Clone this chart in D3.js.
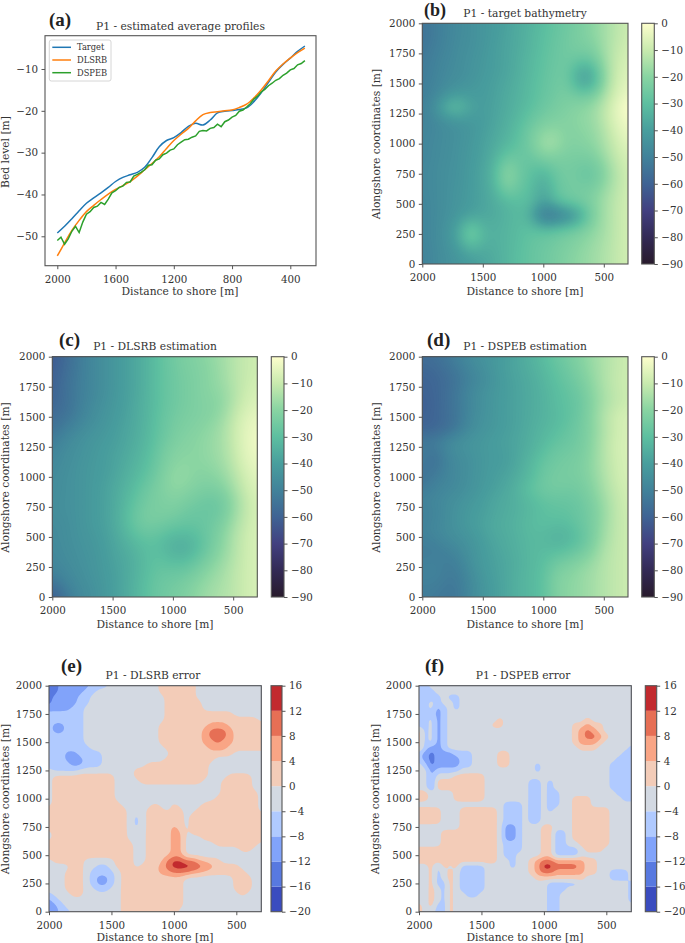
<!DOCTYPE html>
<html><head><meta charset="utf-8">
<script src="https://cdn.jsdelivr.net/npm/d3@7/dist/d3.min.js"></script>
<style>html,body{margin:0;padding:0;background:#fff}svg{display:block}text{font-family:"DejaVu Serif",serif;fill:#333}</style>
</head><body><svg id="c" width="685" height="943"></svg>
<script>
// ---- panel (a) profiles ----
const profileStep50 = d3.range(2000, 299, -50);
const profileStep25 = d3.range(2000, 299, -25);
const targetProfile = [-49.2,-47.6,-45.8,-43.9,-42.1,-40.8,-39.6,-38.3,-36.9,-35.9,-35.3,-34.7,-33.5,-31.2,-28.6,-27.1,-26.4,-25.2,-23.7,-23.0,-23.4,-22.2,-20.5,-20.1,-19.9,-19.7,-19.3,-17.8,-15.7,-13.2,-10.7,-8.9,-7.4,-5.8,-4.5];
const dlsrbProfile = [-54.7,-51.6,-48.6,-46.2,-44.1,-42.6,-41.2,-39.9,-38.8,-37.9,-36.9,-35.6,-34.1,-32.6,-31,-29,-27.1,-25.6,-24.2,-22.4,-20.9,-20.4,-20.2,-20,-19.8,-19.2,-18.4,-16.9,-15,-12.8,-10.5,-8.8,-7.4,-6.1,-5];
const dspebProfile = [-51,-50.2,-51.9,-50.6,-48.8,-47.6,-49.1,-46.6,-44.7,-44.1,-43.1,-42.8,-41.9,-42.4,-41.1,-39.6,-39.1,-38.3,-38,-37.1,-37,-35.6,-35.2,-34.7,-34.1,-33,-32.9,-31.8,-31.5,-30.5,-30.1,-29.4,-29.1,-28.1,-27.5,-26.9,-26.8,-26.3,-26,-24.9,-24.7,-24.8,-24.2,-24,-23.2,-23.8,-22.6,-22.2,-21.5,-21.1,-20.1,-19.8,-19.1,-18.3,-17.2,-16.5,-15.5,-14.9,-14,-13.4,-12.7,-12.3,-11.5,-11,-10.2,-9.9,-9,-8.7,-8];
const profileNames = ["Target","DLSRB","DSPEB"];
const profileColors = ["#1f77b4","#ff7f0e","#2ca02c"];
// ---- depth grids: columns x = 2000..300 by 100 m, rows y = 2000..0 by 100 m ----
const targetDepth = [
[-54,-52,-49,-47,-45,-43,-41,-39,-36,-34,-31,-28,-26,-23,-20,-16,-12,-9],
[-55,-52,-49,-47,-45,-43,-41,-38,-36,-33,-30,-28,-25,-23,-20,-16,-12,-9],
[-54,-51,-49,-46,-45,-43,-40,-38,-36,-33,-30,-27,-25,-23,-23,-16,-11,-8],
[-53,-50,-48,-46,-44,-42,-40,-38,-35,-32,-29,-27,-25,-27,-27,-17,-10,-7],
[-52,-50,-47,-46,-44,-42,-40,-38,-35,-32,-29,-26,-25,-38,-38,-19,-9,-6],
[-52,-49,-47,-45,-43,-41,-39,-37,-34,-31,-28,-26,-24,-38,-38,-19,-8,-5],
[-51,-49,-43,-40,-41,-41,-39,-36,-34,-31,-28,-25,-23,-25,-24,-15,-7,-3],
[-50,-46,-30,-28,-38,-41,-38,-36,-33,-30,-26,-24,-22,-20,-18,-12,-5,1],
[-50,-48,-45,-43,-42,-41,-38,-35,-32,-27,-24,-22,-21,-19,-18,-12,-5,-2],
[-49,-48,-46,-45,-43,-40,-37,-34,-30,-24,-19,-18,-22,-20,-19,-14,-7,-3],
[-49,-47,-46,-44,-42,-39,-36,-33,-29,-24,-15,-15,-22,-21,-20,-15,-9,-5],
[-49,-47,-46,-44,-42,-39,-35,-27,-27,-27,-20,-22,-23,-23,-23,-17,-10,-7],
[-48,-47,-45,-44,-41,-38,-33,-18,-27,-29,-31,-25,-24,-26,-27,-21,-12,-8],
[-48,-47,-45,-44,-41,-38,-33,-16,-27,-29,-37,-27,-24,-25,-28,-21,-13,-8],
[-48,-47,-45,-43,-41,-38,-35,-23,-29,-30,-40,-28,-25,-24,-23,-17,-12,-8],
[-49,-47,-45,-43,-41,-38,-36,-33,-31,-30,-42,-31,-27,-25,-22,-16,-11,-8],
[-49,-47,-45,-42,-39,-38,-36,-34,-31,-36,-60,-58,-52,-42,-23,-16,-11,-8],
[-49,-47,-44,-38,-22,-34,-35,-33,-31,-29,-31,-29,-27,-24,-20,-16,-11,-8],
[-49,-47,-44,-38,-22,-34,-35,-33,-31,-28,-27,-25,-23,-21,-18,-15,-11,-8],
[-50,-47,-45,-42,-37,-38,-35,-33,-30,-28,-26,-24,-22,-19,-17,-14,-11,-8],
[-50,-47,-45,-43,-41,-38,-36,-33,-30,-28,-26,-24,-21,-19,-17,-14,-11,-8]];
const dlsrbDepth = [
[-63,-58,-53,-49,-46,-43,-40,-37,-33,-29,-25,-23,-21,-19,-16,-13,-10,-9],
[-62,-57,-53,-49,-46,-43,-40,-37,-33,-29,-26,-23,-22,-20,-17,-13,-10,-9],
[-61,-56,-52,-49,-46,-43,-40,-37,-33,-29,-26,-24,-22,-20,-17,-13,-10,-8],
[-60,-56,-52,-49,-46,-43,-40,-37,-33,-29,-26,-24,-22,-20,-19,-14,-9,-7],
[-59,-56,-52,-48,-45,-42,-40,-36,-33,-29,-26,-24,-22,-21,-20,-13,-8,-6],
[-57,-55,-51,-47,-44,-42,-39,-36,-33,-28,-25,-23,-22,-21,-18,-11,-6,-4],
[-55,-51,-48,-45,-43,-41,-38,-36,-32,-28,-24,-22,-21,-19,-16,-10,-5,-3],
[-52,-48,-45,-43,-42,-40,-38,-35,-32,-27,-23,-21,-20,-18,-16,-10,-5,-2],
[-49,-46,-45,-43,-41,-39,-37,-34,-31,-25,-21,-20,-20,-18,-16,-11,-5,-3],
[-48,-46,-44,-42,-41,-39,-36,-33,-30,-24,-20,-19,-20,-19,-17,-12,-6,-4],
[-47,-45,-44,-42,-41,-38,-35,-32,-28,-23,-18,-18,-21,-21,-19,-14,-8,-5],
[-47,-45,-44,-42,-40,-37,-34,-30,-25,-22,-19,-20,-22,-23,-22,-16,-9,-6],
[-46,-45,-44,-42,-40,-37,-33,-28,-24,-23,-21,-23,-25,-27,-26,-19,-11,-7],
[-46,-45,-44,-42,-40,-37,-32,-26,-23,-23,-23,-26,-27,-27,-26,-18,-11,-7],
[-47,-46,-44,-42,-40,-37,-32,-26,-24,-25,-27,-28,-28,-26,-23,-16,-10,-7],
[-47,-46,-44,-43,-41,-38,-34,-30,-28,-30,-33,-33,-31,-26,-21,-14,-9,-7],
[-48,-46,-45,-43,-42,-38,-36,-33,-30,-31,-35,-36,-32,-25,-20,-14,-9,-7],
[-48,-47,-45,-44,-42,-39,-37,-34,-30,-29,-31,-31,-27,-22,-18,-13,-9,-7],
[-50,-48,-46,-44,-42,-40,-37,-34,-30,-27,-27,-26,-23,-19,-16,-12,-9,-7],
[-56,-50,-47,-45,-43,-40,-37,-33,-29,-26,-25,-23,-20,-17,-15,-12,-9,-7],
[-62,-55,-48,-46,-43,-40,-37,-33,-29,-26,-24,-22,-19,-16,-14,-12,-9,-7]];
const dspebDepth = [
[-57,-56,-53,-50,-46,-44,-42,-40,-37,-34,-31,-27,-24,-21,-17,-14,-11,-9],
[-58,-58,-55,-52,-48,-45,-42,-39,-37,-35,-32,-29,-26,-22,-18,-14,-11,-9],
[-60,-59,-57,-54,-50,-47,-43,-40,-38,-36,-33,-30,-27,-24,-19,-14,-10,-9],
[-60,-59,-56,-52,-47,-44,-42,-40,-38,-36,-34,-31,-29,-26,-20,-15,-11,-9],
[-61,-60,-56,-53,-48,-45,-42,-40,-38,-36,-34,-31,-29,-27,-21,-15,-11,-9],
[-60,-59,-56,-53,-47,-44,-42,-40,-38,-36,-34,-32,-30,-26,-20,-13,-8,-7],
[-60,-60,-57,-53,-46,-44,-42,-40,-38,-35,-33,-31,-28,-25,-21,-14,-9,-7],
[-52,-51,-47,-44,-43,-42,-40,-39,-37,-35,-32,-29,-27,-25,-20,-13,-8,-7],
[-52,-56,-48,-46,-44,-42,-41,-40,-37,-34,-30,-26,-25,-24,-20,-13,-8,-7],
[-52,-57,-49,-47,-45,-42,-41,-40,-36,-32,-27,-25,-24,-23,-19,-13,-9,-7],
[-56,-51,-49,-47,-44,-42,-40,-38,-35,-32,-26,-24,-24,-23,-20,-14,-9,-7],
[-52,-50,-48,-47,-44,-42,-39,-37,-33,-28,-25,-24,-25,-25,-21,-15,-10,-8],
[-49,-48,-46,-44,-42,-40,-37,-36,-34,-32,-29,-28,-28,-26,-23,-17,-11,-8],
[-51,-50,-46,-44,-41,-40,-37,-36,-34,-32,-30,-29,-29,-27,-24,-18,-11,-9],
[-50,-48,-46,-43,-41,-38,-36,-35,-33,-31,-30,-31,-31,-27,-24,-17,-11,-9],
[-50,-49,-46,-45,-43,-40,-37,-36,-34,-32,-32,-35,-34,-30,-24,-16,-11,-9],
[-52,-52,-50,-47,-44,-41,-38,-36,-34,-32,-31,-32,-30,-27,-22,-14,-11,-9],
[-51,-50,-52,-50,-44,-41,-39,-37,-35,-32,-31,-26,-24,-21,-18,-13,-11,-9],
[-50,-49,-52,-52,-46,-42,-39,-37,-34,-32,-30,-22,-21,-18,-16,-13,-11,-9],
[-51,-51,-53,-53,-47,-43,-40,-37,-34,-32,-30,-21,-20,-18,-16,-13,-11,-9],
[-52,-52,-54,-53,-47,-43,-40,-37,-34,-32,-30,-22,-20,-18,-16,-13,-11,-9]];
// ---- error grids: each digit is a colour-band index, columns x = 2000..300 by 50 m, rows y = 2000..0 by 50 m ----
const dlsrbErrorBands = [
"11222223334444444455555544444444444","11222233444444444455555544444444444","12222334444444444445555544444444444",
"12222334444444444445555554444444444","22223344444444444445555554444444444","33333344444444444445555555555544444",
"33333344444444444445555555555555554","32233344444444444455555555666555555","32233344444444444455555556777655555",
"33333344444444444455555556777655555","33333344444444444455555556676655555","33333334444444444445555555666555555",
"33322333344444444444555555555544444","33322233344444444445555555544444444","33332233344444445555555555444444444",
"43333444444444555555555555444444444","45555555555444555555555555444555544","45555555555444455555555554445555544",
"45555555555444444444444444445555544","45555555555444444444444444445555554","45555555555444444444444444455555554",
"45555555555544444544544445555555554","55555555555554445554554455555555554","55555555555554345555554555555555555",
"55555555555554345555554555555555555","55555555555554345555654555555555555","45555555555554445555664555555555555",
"45555555555554445555664445555555555","55555555555555445555664444455555554","55555555555555445555664444444445544",
"55555555555555445555664444444444444","45555544444555445557887765554444444","44445544334555455567888877655554444",
"44455543333455555566777665555555444","44455543223455555555554444444455544","44455543223455555555554444444455544",
"44455544334455555555554444444455544","34445544444455555555554444444445444","23444444444455555555554444444444444",
"22344444444455555555554444444444444","22334444444455555555544444444444444"];
const dspebErrorBands = [
"33444444444444444444444444444444444","33344444444444444444444444444444444","33334334444444444444434444444444444",
"33434434444444444444444444444444444","33423434444444444444444444444444444","33323444444444444444444444444444444",
"33423444444445444444444444454444444","33423444444455444444444445565544444","53423444444444444444444445676544444",
"53423444444445444444444445677654444","53423444444444444444444445666544444","53223444444444444444434444555444443",
"32122233344445544444444444444444433","32122223344445544444444444444444333","43122223344445544443444444444443333",
"44233334444444444443444444444443333","44244455555444444444444444444443333","44255555555444444433434444444443333",
"44255555555444444433434444444443333","55444455555444444433433444444444333","55444455555444444433433445554444433",
"44444444444444333433433445554444444","55554445555554333433434445555554444","55554445555554333433444445555554444",
"55554445555554333433444445555554444","44444445555554223444554445555554444","44445555555554223444553345555554444",
"44445555555554223444553345555554444","44445555555554333444553344555554444","55555555555554333444553333455544444",
"55555555555554334444553333444444444","55555555555554434456776666655444444","44535453333444434456887777655444444",
"44534543333444444456776666655443334","44534543333444444445555555544443334","44533543333444444444433333444444443",
"44543543333444444444433344444444443","44543544334444444444433444444444443","44543544444444444444433444444444443",
"54533544444444444444433444444444444","54433544444444444444433444444444444"];
// ---- colour scales and ticks ----
const depthStops = [0,-10,-20,-30,-40,-50,-60,-70,-80,-90];
const depthColors = ["#fdfecc","#c8eaae","#88d4a2","#5dbfa0","#489e9d","#41829a","#3f6394","#424080","#332a55","#281a2c"];
const errorLevels = [-20,-16,-12,-8,-4,0,4,8,12,16];
const errorColors = ["#3a4cbf","#5879e0","#81a3fa","#b0caff","#d3d9e2","#f3ccb8","#f9a585","#e66f55","#c22a2e"];
const xTicksMap = [2000,1500,1000,500];
const xTicksProfile = [2000,1600,1200,800,400];
const yTicksProfile = [-10,-20,-30,-40,-50];
const yTicksMap = [0,250,500,750,1000,1250,1500,1750,2000];
const depthTicks = [0,-10,-20,-30,-40,-50,-60,-70,-80,-90];
const gridXDepth = d3.range(2000,299,-100), gridYDepth = d3.range(2000,-1,-100);
const gridXError = d3.range(2000,299,-50), gridYError = d3.range(2000,-1,-50);

const svg = d3.select("#c");
const depthColor = d3.scaleLinear().domain(depthStops).range(depthColors).clamp(true);
const GRAY="#555", LABEL=10.7, TICK=10.3, SUB=4;
let clipId=0;
function styleAxis(g){
  g.select(".domain").remove();
  g.selectAll(".tick line").attr("stroke",GRAY).attr("stroke-width",1);
  g.selectAll(".tick text").attr("font-size",TICK).attr("fill","#333");
}
function frame(L,T,R,B){ svg.append("rect").attr("x",L).attr("y",T).attr("width",R-L).attr("height",B-T).attr("fill","none").attr("stroke",GRAY).attr("stroke-width",1.1); }
function text(x,y,s,size,opts={}){
  const t=svg.append("text").attr("x",x).attr("y",y).attr("font-size",size).attr("text-anchor",opts.anchor||"middle").text(s);
  if(opts.rot) t.attr("transform",`rotate(-90 ${x} ${y})`);
  if(opts.bold) t.attr("font-weight","bold").style("font-family","'Liberation Serif',serif").style("fill","#222");
  return t;
}
// Grid cells are spread over SUB finer cells and softened so band edges render round rather than faceted.
function fillField(g,rows,gx,gy,xs,ys,thresholds,colorOf,base,soften){
  const nx=rows[0].length, ny=rows.length;
  rows.forEach(r=>{ if(r.length!==nx) throw new Error("row length "+r.length); });
  const dx=gx[0]-gx[1], dy=gy[0]-gy[1], W=nx*SUB, H=ny*SUB;
  const fine=new Float64Array(W*H);
  for(let j=0;j<H;j++) for(let i=0;i<W;i++) fine[j*W+i]=rows[Math.floor(j/SUB)][Math.floor(i/SUB)];
  d3.blur2({data:fine,width:W,height:H},soften);
  const proj=d3.geoTransform({point(u,v){ this.stream.point(xs(gx[0]+dx/2-u/SUB*dx), ys(gy[0]+dy/2-v/SUB*dy)); }});
  const path=d3.geoPath(proj);
  const contours=d3.contours().size([W,H]).thresholds(thresholds)(Array.from(fine));
  g.append("rect").attr("x",xs.range()[0]).attr("y",ys.range()[1]).attr("width",xs.range()[1]-xs.range()[0]).attr("height",ys.range()[0]-ys.range()[1]).attr("fill",base);
  g.selectAll("path.band").data(contours.filter(c=>c.coordinates.length)).join("path").attr("class","band").attr("d",path).attr("fill",d=>colorOf(d.value)).attr("stroke","none");
}
function drawMap(cfg){
  const {L,T,R,B}=cfg;
  const xs=d3.scaleLinear().domain([2000,300]).range([L,R]);
  const ys=d3.scaleLinear().domain([0,2000]).range([B,T]);
  const id="clip"+(clipId++);
  svg.append("clipPath").attr("id",id).append("rect").attr("x",L).attr("y",T).attr("width",R-L).attr("height",B-T);
  const g=svg.append("g").attr("clip-path",`url(#${id})`);
  cfg.fill(g,xs,ys);
  frame(L,T,R,B);
  svg.append("g").attr("transform",`translate(0,${B})`).call(d3.axisBottom(xs).tickValues(xTicksMap).tickSize(3.5).tickPadding(6).tickFormat(d3.format("d"))).call(styleAxis);
  svg.append("g").attr("transform",`translate(${L},0)`).call(d3.axisLeft(ys).tickValues(yTicksMap).tickSize(3.5).tickPadding(3.5).tickFormat(d3.format("d"))).call(styleAxis);
}
const defs=svg.append("defs");
const grad=defs.append("linearGradient").attr("id","deepGrad").attr("x1",0).attr("x2",0).attr("y1",0).attr("y2",1);
grad.selectAll("stop").data(depthStops).join("stop").attr("offset",d=>-d/90).attr("stop-color",d=>depthColor(d));
function depthBar(L,R,T,B){
  const c=d3.scaleLinear().domain([-90,0]).range([B,T]);
  svg.append("rect").attr("x",L).attr("y",T).attr("width",R-L).attr("height",B-T).attr("fill","url(#deepGrad)");
  frame(L,T,R,B);
  svg.append("g").attr("transform",`translate(${R},0)`).call(d3.axisRight(c).tickValues(depthTicks).tickSize(3.5).tickPadding(3.5)).call(styleAxis);
}
function errorBar(L,R,T,B){
  const c=d3.scaleLinear().domain([-20,16]).range([B,T]);
  const g=svg.append("g");
  g.selectAll("rect").data(errorColors).join("rect").attr("x",L).attr("width",R-L).attr("y",(d,i)=>c(errorLevels[i+1])).attr("height",(d,i)=>c(errorLevels[i])-c(errorLevels[i+1])).attr("fill",d=>d);
  frame(L,T,R,B);
  svg.append("g").attr("transform",`translate(${R},0)`).call(d3.axisRight(c).tickValues(errorLevels).tickSize(3.5).tickPadding(3.5)).call(styleAxis);
}
const depthThresholds=d3.range(-90,0,0.5);
function depthFill(rows){ return (g,xs,ys)=>fillField(g,rows,gridXDepth,gridYDepth,xs,ys,depthThresholds,v=>depthColor(v+0.25),depthColor(-90),2); }
function errorFill(bands,soften){
  const rows=bands.map(s=>Array.from(s,ch=>errorLevels[+ch]+2));
  const th=errorLevels.slice(1,-1);
  return (g,xs,ys)=>fillField(g,rows,gridXError,gridYError,xs,ys,th,v=>errorColors[errorLevels.indexOf(v)],errorColors[0],soften);
}
// panel a
(function(){
  const L=45,R=316,T=35.7,B=265.7;
  const xs=d3.scaleLinear().domain([2084.5,223.6]).range([L,R]);
  const ys=d3.scaleLinear().domain([-57.03,-2.04]).range([B,T]);
  const series=[[profileStep50,targetProfile],[profileStep50,dlsrbProfile],[profileStep25,dspebProfile]];
  [0,1,2].forEach(i=>{
    const line=d3.line().x((d,k)=>xs(series[i][0][k])).y(d=>ys(d)).curve(i===2?d3.curveLinear:d3.curveCatmullRom);
    svg.append("path").attr("d",line(series[i][1])).attr("fill","none").attr("stroke",profileColors[i]).attr("stroke-width",1.5);
  });
  frame(L,T,R,B);
  svg.append("g").attr("transform",`translate(0,${B})`).call(d3.axisBottom(xs).tickValues(xTicksProfile).tickSize(3.5).tickPadding(6).tickFormat(d3.format("d"))).call(styleAxis);
  svg.append("g").attr("transform",`translate(${L},0)`).call(d3.axisLeft(ys).tickValues(yTicksProfile).tickSize(3.5).tickPadding(3.5)).call(styleAxis);
  svg.append("rect").attr("x",49.3).attr("y",40).attr("width",61.7).attr("height",41).attr("rx",2).attr("fill","#fff").attr("fill-opacity",.8).attr("stroke","#ccc").attr("stroke-width",.8);
  profileNames.forEach((n,i)=>{
    const y=47.3+i*12.7;
    svg.append("line").attr("x1",52.3).attr("x2",71).attr("y1",y).attr("y2",y).attr("stroke",profileColors[i]).attr("stroke-width",1.5);
    text(77,y+2.8,n,8.3,{anchor:"start"});
  });
  text(180.5,30,"P1 - estimated average profiles",LABEL);
  text(180,295,"Distance to shore [m]",LABEL);
  text(9,152,"Bed level [m]",LABEL,{rot:true});
  text(49,26,"(a)",19,{anchor:"start",bold:true});
})();
// panels b-f
drawMap({L:422.3,R:628,T:23.3,B:264,fill:depthFill(targetDepth)}); depthBar(641.7,654.3,23.3,264);
text(525,17,"P1 - target bathymetry",LABEL); text(525,295,"Distance to shore [m]",LABEL); text(380,144,"Alongshore coordinates [m]",LABEL,{rot:true}); text(424,16,"(b)",18,{anchor:"start",bold:true});
drawMap({L:52.3,R:257.3,T:356.7,B:597,fill:depthFill(dlsrbDepth)}); depthBar(271.3,284,356.7,597);
text(155,350,"P1 - DLSRB estimation",LABEL); text(155,628,"Distance to shore [m]",LABEL); text(9,477.5,"Alongshore coordinates [m]",LABEL,{rot:true}); text(59,345.5,"(c)",19,{anchor:"start",bold:true});
drawMap({L:422.3,R:628,T:356.7,B:597,fill:depthFill(dspebDepth)}); depthBar(641.7,654.3,356.7,597);
text(525,350,"P1 - DSPEB estimation",LABEL); text(525,628,"Distance to shore [m]",LABEL); text(380,477.5,"Alongshore coordinates [m]",LABEL,{rot:true}); text(427,345.5,"(d)",19,{anchor:"start",bold:true});
drawMap({L:49,R:261.3,T:685.7,B:911.7,fill:errorFill(dlsrbErrorBands,2)}); errorBar(271,282,685.7,911.7);
text(153,679,"P1 - DLSRB error",LABEL); text(155,941,"Distance to shore [m]",LABEL); text(9,799,"Alongshore coordinates [m]",LABEL,{rot:true}); text(61,671.5,"(e)",19,{anchor:"start",bold:true});
drawMap({L:419,R:631.3,T:685.7,B:911.7,fill:errorFill(dspebErrorBands,1.3)}); errorBar(645.3,656.7,685.7,911.7);
text(523,679,"P1 - DSPEB error",LABEL); text(525,941,"Distance to shore [m]",LABEL); text(379,799,"Alongshore coordinates [m]",LABEL,{rot:true}); text(425,671.5,"(f)",19,{anchor:"start",bold:true});
</script></body></html>
